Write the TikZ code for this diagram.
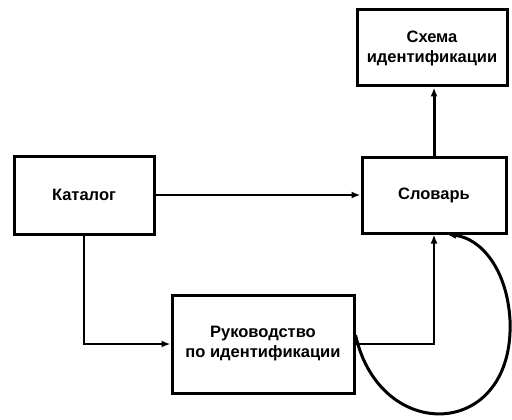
\documentclass[tikz,border=0pt]{standalone}
\usepackage{fontspec}
\setmainfont{Liberation Sans}
\usetikzlibrary{positioning, calc}
\usetikzlibrary{arrows.meta}

\begin{document}
\begin{tikzpicture}[x=1pt,y=-1pt,draw=black!100]
	\def \rowtop{48}
	\def \rowmid{195}
	\def \rowlow{344}
	\tikzstyle{box-node}=[draw=black!100,line width=3pt,text centered,align=center,inner sep=2pt,font=\fontsize{16.5}{20}\selectfont\bfseries]
	\tikzstyle{link}=[line width=2pt,-{Latex[length=9pt,width=7pt]}]
	\useasboundingbox (0,0) rectangle (512,420);

	% boxes
	\node[box-node,minimum width=150pt,minimum height=76pt] (shema)   at (432,\rowtop) {Схема\\идентификации};
	\node[box-node,minimum width=144pt,minimum height=76pt] (slovar)  at (434,\rowmid) {Словарь};
	\node[box-node,minimum width=140pt,minimum height=78pt] (katalog) at (84,\rowmid)  {Каталог};
	\node[box-node,minimum width=182pt,minimum height=98pt] (ruk)     at (263,\rowlow) {Руководство\\по идентификации};

	% loop points
	\coordinate (loop0) at ([yshift=9pt]ruk.east);
	\coordinate (loop1) at ([xshift=13pt]slovar.south);

	% connectors
	\draw[link] (katalog.east) -- (slovar.west);
	\draw[link] (katalog.south) |- (ruk.west);
	\draw[link] (ruk.east) -| (slovar.south);
	\draw[link,line width=3pt] (slovar.north) -- (slovar.north |- shema.south);
	\draw[link,line width=3pt] (loop0) .. controls (380,445) and (515,440) .. (510,320)
		.. controls (507,268) and (480,238) .. (loop1);
\end{tikzpicture}
\end{document}
